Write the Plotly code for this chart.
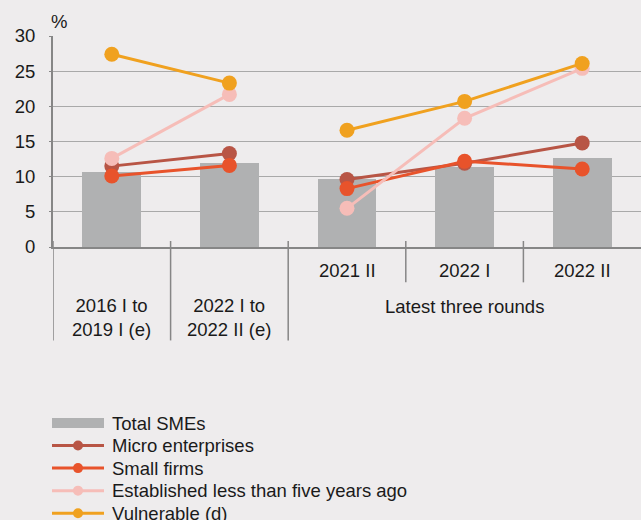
import plotly.graph_objects as go

# Periods on the horizontal axis
categories = ["2016 I to<br>2019 I (e)", "2022 I to<br>2022 II (e)", "2021 II", "2022 I", "2022 II"]
group_label = "Latest three rounds"
group_start = 2  # index of the first period in the latest-rounds group

# Share of firms (%)
total_smes = [10.6, 12.0, 9.6, 11.4, 12.6]
micro = [11.5, 13.3, 9.6, 11.9, 14.8]
small = [10.1, 11.6, 8.3, 12.2, 11.1]
young = [12.6, 21.7, 5.5, 18.3, 25.4]
vulnerable = [27.4, 23.3, 16.6, 20.7, 26.1]

series = [
    ("Micro enterprises", micro, "#B85545"),
    ("Small firms", small, "#E8532B"),
    ("Established less than five years ago", young, "#F6BDB8"),
    ("Vulnerable (d)", vulnerable, "#F0A11F"),
]

BG = "#EEECED"
BAR = "#B0B1B2"
AXIS = "#868686"
GRID = "#A9A9A9"
FONT = "Liberation Sans, Arial, sans-serif"
FS = 18.5

xs = list(range(len(categories)))


def split_groups(values):
    """Break the line between the long-run averages and the latest rounds."""
    gx, gy = [], []
    for i, v in enumerate(values):
        if i == group_start:
            gx.append(None)
            gy.append(None)
        gx.append(xs[i])
        gy.append(v)
    return gx, gy


fig = go.Figure()

fig.add_trace(go.Bar(x=xs, y=total_smes, marker=dict(color=BAR, line=dict(width=0)),
                     width=0.5, showlegend=False, name="Total SMEs"))

for name, vals, col in series:
    gx, gy = split_groups(vals)
    fig.add_trace(go.Scatter(x=gx, y=gy, mode="lines+markers", name=name,
                             line=dict(color=col, width=3),
                             marker=dict(color=col, size=15),
                             connectgaps=False, showlegend=False))

# Plot area geometry in pixels (used to place labels and the key around it)
W, H = 641, 520
left_px = 53
top_px, bot_px = 36, 246.7
ph = bot_px - top_px
pw = W - left_px


def py(p):
    return (bot_px - p) / ph


def px(p):
    return (p - left_px) / pw


shapes = []
for i in range(len(categories)):
    b = i - 0.5
    bottom = 340 if i <= group_start else 282
    shapes.append(dict(type="line", xref="x", yref="paper", x0=b, x1=b,
                       y0=py(240.7), y1=py(bottom),
                       line=dict(color=AXIS, width=1.5), layer="above"))

annotations = []
for i, c in enumerate(categories):
    yy = py(317) if i < group_start else py(270)
    annotations.append(dict(x=xs[i], y=yy, xref="x", yref="paper", text=c,
                            showarrow=False, yanchor="middle", xanchor="center"))
annotations.append(dict(x=(group_start + len(categories) - 1) / 2, y=py(306.5),
                        xref="x", yref="paper", text=group_label,
                        showarrow=False, yanchor="middle", xanchor="center"))
annotations.append(dict(x=px(59), y=py(21.5), xref="paper", yref="paper",
                        text="%", showarrow=False, xanchor="center", yanchor="middle"))

# Key below the chart
key_x0, key_x1, key_text_x = 52, 104, 110
key_top, key_step = 422.5, 22.5
key_items = [("Total SMEs", BAR, "bar")] + [(n, c, "line") for n, _, c in series]
for k, (name, col, kind) in enumerate(key_items):
    yc = key_top + k * key_step
    if kind == "bar":
        shapes.append(dict(type="rect", xref="paper", yref="paper",
                           x0=px(key_x0), x1=px(key_x1), y0=py(yc - 5), y1=py(yc + 5),
                           fillcolor=col, line=dict(width=0)))
    else:
        shapes.append(dict(type="line", xref="paper", yref="paper",
                           x0=px(key_x0), x1=px(key_x1), y0=py(yc), y1=py(yc),
                           line=dict(color=col, width=3)))
        cx = (key_x0 + key_x1) / 2
        shapes.append(dict(type="circle", xref="paper", yref="paper",
                           x0=px(cx - 5), x1=px(cx + 5), y0=py(yc - 5), y1=py(yc + 5),
                           fillcolor=col, line=dict(width=0)))
    annotations.append(dict(x=px(key_text_x), y=py(yc), xref="paper", yref="paper",
                            text=name, showarrow=False, xanchor="left", yanchor="middle"))

fig.update_layout(
    width=W, height=H,
    margin=dict(l=left_px, r=0, t=top_px, b=H - bot_px, autoexpand=False),
    paper_bgcolor=BG, plot_bgcolor=BG,
    font=dict(family=FONT, size=FS, color="#1A1A1A"),
    shapes=shapes, annotations=annotations,
    bargap=0, showlegend=False,
)
fig.update_xaxes(range=[-0.5, len(categories) - 0.5], showticklabels=False, ticks="",
                 showgrid=False, zeroline=False, showline=True, linecolor=AXIS, linewidth=2)
fig.update_yaxes(range=[0, 30], dtick=5, showgrid=True, gridcolor=GRID, gridwidth=1,
                 zeroline=False, showline=True, linecolor=AXIS, linewidth=2,
                 ticks="outside", ticklen=2, tickcolor=AXIS, ticklabelstandoff=10)

fig.write_html("out.html")
